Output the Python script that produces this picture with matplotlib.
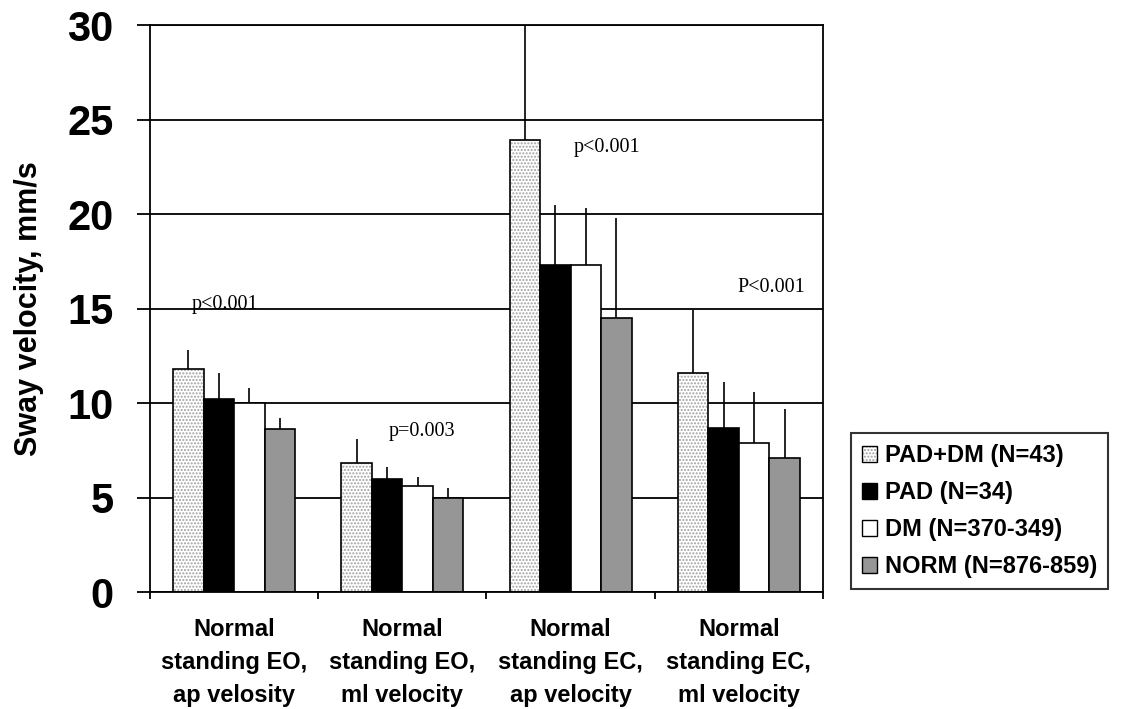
import numpy as np
import matplotlib
matplotlib.use('Agg')
import matplotlib.pyplot as plt
from matplotlib.patches import Patch

# data
categories = ['Normal\nstanding EO,\nap velosity',
              'Normal\nstanding EO,\nml velocity',
              'Normal\nstanding EC,\nap velocity',
              'Normal\nstanding EC,\nml velocity']
series = ['PAD+DM (N=43)', 'PAD (N=34)', 'DM (N=370-349)', 'NORM (N=876-859)']

padm = [11.8, 6.8, 23.9, 11.6]
pad = [10.2, 6.0, 17.3, 8.7]
dm = [10.0, 5.6, 17.3, 7.9]
norm = [8.6, 5.0, 14.5, 7.1]

# upper error (SD) added on top of the mean
padm_err = [1.0, 1.3, 7.8, 3.3]
pad_err = [1.4, 0.6, 3.2, 2.4]
dm_err = [0.8, 0.5, 3.0, 2.7]
norm_err = [0.6, 0.5, 5.3, 2.6]

pvals = ['p<0.001', 'p=0.003', 'p<0.001', 'P<0.001']
p_x = [-0.054, 1.117, 2.216, 3.19]
p_y = [15.2, 8.47, 23.5, 16.1]

plt.rcParams['font.family'] = ['Liberation Sans', 'DejaVu Sans']

fig = plt.figure(figsize=(11.22, 7.09), dpi=100)
ax = fig.add_axes([0.1337, 0.165, 0.5998, 0.7997])

x = np.arange(len(categories))
w = 0.181
offs = [-1.5 * w, -0.5 * w, 0.5 * w, 1.5 * w]

ax.set_axisbelow(True)
ax.yaxis.grid(True, color='black', linewidth=1.3)

# PAD+DM: dotted fill, drawn as hatch layer + outline
ax.bar(x + offs[0], padm, w, color='white', edgecolor='#a0a0a0', hatch='.....', linewidth=0)
ax.bar(x + offs[0], padm, w, fill=False, edgecolor='black', linewidth=1.2)
ax.bar(x + offs[1], pad, w, color='black', edgecolor='black', linewidth=1.2)
ax.bar(x + offs[2], dm, w, color='white', edgecolor='black', linewidth=1.2)
ax.bar(x + offs[3], norm, w, color='#969696', edgecolor='black', linewidth=1.2)

vals = [padm, pad, dm, norm]
errs = [padm_err, pad_err, dm_err, norm_err]
for k in range(4):
    ax.errorbar(x + offs[k], vals[k], yerr=[np.zeros(4), errs[k]], fmt='none',
                ecolor='black', elinewidth=1.2, capsize=0)

for t, px, py in zip(pvals, p_x, p_y):
    ax.text(px, py, t, ha='center', va='center', fontsize=14.5, family='Liberation Serif')

ax.set_xlim(-0.5, 3.5)
ax.set_ylim(0, 30)
ax.set_yticks(np.arange(0, 31, 5))
ax.tick_params(axis='y', direction='out', length=9.4, width=1.3, pad=17, labelsize=30)
for lab in ax.get_yticklabels():
    lab.set_fontweight('bold')

ax.set_xticks(np.arange(-0.5, 3.6, 1.0))
ax.set_xticklabels([])
ax.tick_params(axis='x', which='major', direction='out', length=5, width=1.3)
ax.set_xticks(x, minor=True)
ax.set_xticklabels(categories, minor=True, fontsize=17, fontweight='bold', linespacing=1.55)
ax.tick_params(axis='x', which='minor', length=0, pad=19)

for s in ax.spines.values():
    s.set_linewidth(1.3)
    s.set_color('black')

ax.set_ylabel('Sway velocity, mm/s', fontsize=22, fontweight='bold')
ax.yaxis.set_label_coords(-0.158, 0.5)

h_padm = (Patch(facecolor='white', edgecolor='#a0a0a0', hatch='.....', linewidth=0),
          Patch(fill=False, edgecolor='black', linewidth=1.0))
h_pad = Patch(facecolor='black', edgecolor='black', linewidth=1.0)
h_dm = Patch(facecolor='white', edgecolor='black', linewidth=1.0)
h_norm = Patch(facecolor='#969696', edgecolor='black', linewidth=1.0)
leg = fig.legend([h_padm, h_pad, h_dm, h_norm], series, loc='center',
                 bbox_to_anchor=(0.873, 0.279), fancybox=False, frameon=True,
                 prop={'family': 'Liberation Sans', 'weight': 'bold', 'size': 17},
                 handlelength=0.65, handleheight=0.65, handletextpad=0.35,
                 labelspacing=0.6, borderpad=0.45, borderaxespad=0)
leg.get_frame().set_edgecolor('black')
leg.get_frame().set_linewidth(1.5)

fig.savefig('out.png', dpi=100)
